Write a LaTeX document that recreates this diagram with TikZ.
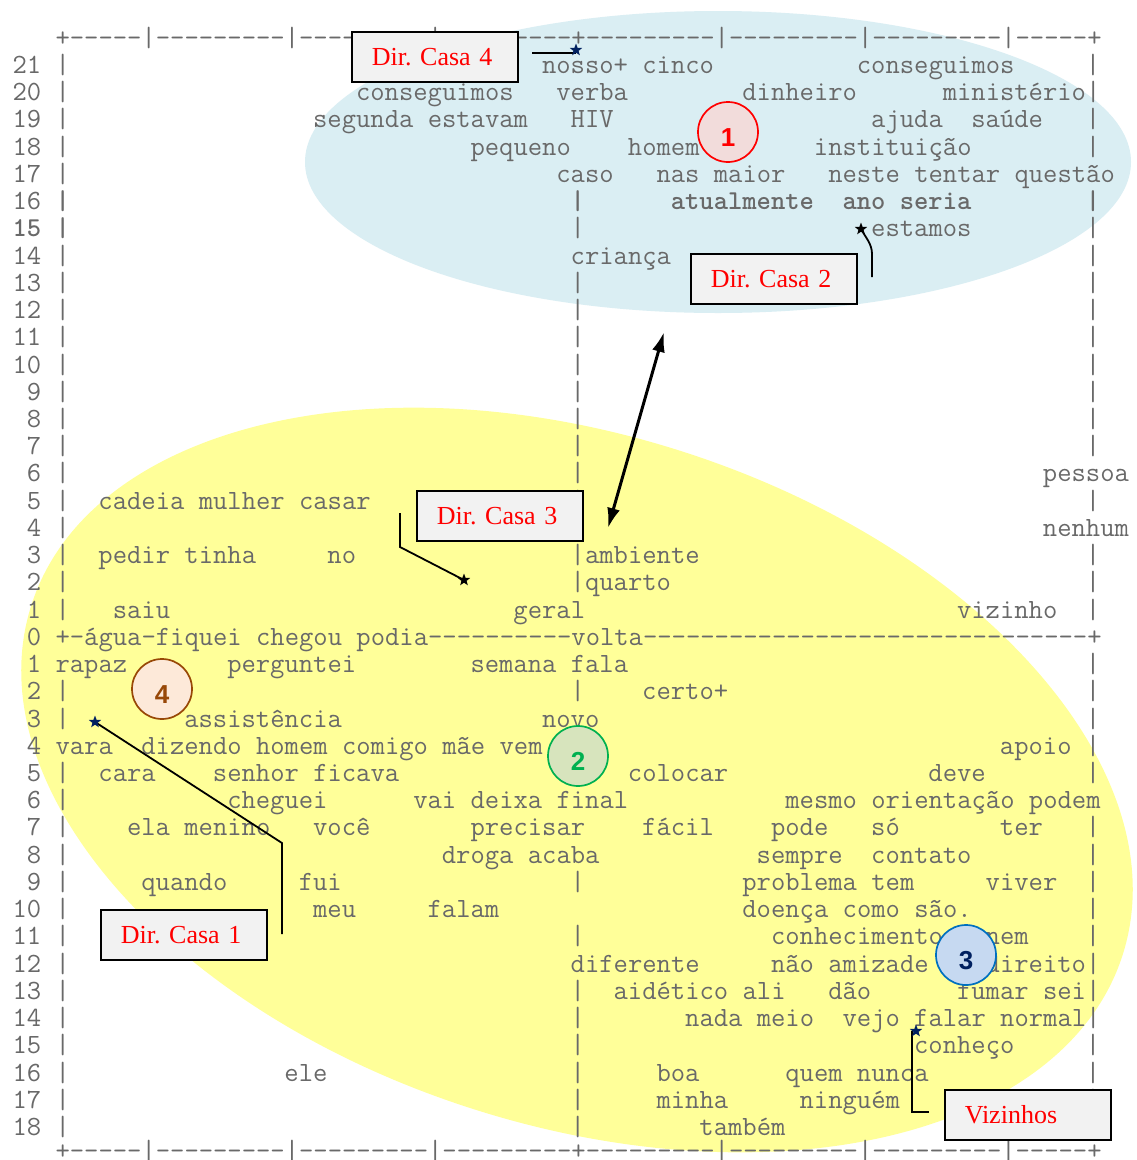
\documentclass[tikz,border=0pt]{standalone}
\usepackage{fontspec}
\newfontfamily\boxfont{Liberation Serif}
\newfontfamily\numfont{Liberation Sans}
\usetikzlibrary{shapes.geometric,arrows.meta}
\definecolor{txt}{RGB}{105,105,105}
\definecolor{navy}{RGB}{0,32,96}
\definecolor{boxgray}{RGB}{242,242,242}
\definecolor{skyfill}{RGB}{218,238,243}
\definecolor{lemon}{RGB}{255,255,153}
\definecolor{pinkfill}{RGB}{242,220,219}
\definecolor{greenfill}{RGB}{215,228,189}
\definecolor{greenline}{RGB}{0,176,80}
\definecolor{bluefill}{RGB}{198,217,241}
\definecolor{blueline}{RGB}{0,112,192}
\definecolor{peach}{RGB}{253,233,217}
\definecolor{brownline}{RGB}{152,72,7}
\newcommand\dsh[1]{\foreach \i in {1,...,#1}{-\kern0pt}}
\begin{document}
\begin{tikzpicture}[x=1pt,y=-1pt,
  mono/.style={font=\ttfamily\fontsize{27.826pt}{30pt}\selectfont, text=txt, inner sep=0pt, anchor=base west},
  monob/.style={mono, font=\ttfamily\bfseries\fontsize{27.26pt}{30pt}\selectfont},
  lbl/.style={draw=black, line width=1.6pt, fill=boxgray, anchor=north west, minimum height=50pt,
    text width=126pt, inner xsep=20pt, inner ysep=0pt, align=left,
    font=\boxfont\fontsize{26pt}{30pt}\selectfont, text=red},
  marker/.style={star, star points=5, star point ratio=2.4, inner sep=0pt, minimum size=13pt, fill=navy},
  conn/.style={line width=1.8pt, black},
  badge/.style={circle, minimum size=60pt, line width=1.7pt, inner sep=0pt,
    font=\numfont\bfseries\fontsize{26pt}{28pt}\selectfont, text height=28pt, text depth=0pt}]
\useasboundingbox (0,0) rectangle (1136,1160);
\fill[white] (0,0) rectangle (1136,1160);
% background ellipses
\fill[skyfill] (718,162) ellipse [x radius=413, y radius=151];
\fill[lemon, rotate around={-17.8:(577,780)}] (577,780) ellipse [x radius=573, y radius=345];
% text plot
\node[mono] (top) at (55.33,46.27) {+\dsh{5}|\dsh{9}|\dsh{9}|\dsh{9}+\dsh{9}|\dsh{9}|\dsh{9}|\dsh{5}+};
\node[mono] (zero) at (55.33,645.33) {+-água-fiquei chegou podia\dsh{10}volta\dsh{31}+};
\node[mono] (bottom) at (55.33,1159.5) {+\dsh{5}|\dsh{9}|\dsh{9}|\dsh{9}+\dsh{9}|\dsh{9}|\dsh{9}|\dsh{5}+};
\foreach \l/\c/\t in {
1/0/21, 1/3/|, 1/37/nosso+ cinco, 1/59/conseguimos, 1/75/|,
2/0/20, 2/3/|, 2/24/conseguimos, 2/38/verba, 2/51/dinheiro, 2/65/ministério|,
3/0/19, 3/3/|, 3/21/segunda estavam, 3/39/HIV, 3/60/ajuda, 3/67/saúde, 3/75/|,
4/0/18, 4/3/|, 4/32/pequeno, 4/43/homem, 4/56/instituição, 4/75/|,
5/0/17, 5/3/|, 5/38/caso, 5/45/nas maior, 5/57/neste tentar questão,
6/0/16,
7/39/|, 7/60/estamos, 7/75/|,
8/0/14, 8/3/|, 8/39/criança, 8/75/|,
9/0/13, 9/3/|, 9/39/|, 9/75/|,
10/0/12, 10/3/|, 10/39/|, 10/75/|,
11/0/11, 11/3/|, 11/39/|, 11/75/|,
12/0/10, 12/3/|, 12/39/|, 12/75/|,
13/1/9, 13/3/|, 13/39/|, 13/75/|,
14/1/8, 14/3/|, 14/39/|, 14/75/|,
15/1/7, 15/3/|, 15/39/|, 15/75/|,
16/1/6, 16/3/|, 16/39/|, 16/72/pessoa,
17/1/5, 17/3/|, 17/6/cadeia mulher casar, 17/39/|, 17/75/|,
18/1/4, 18/3/|, 18/39/|, 18/72/nenhum,
19/1/3, 19/3/|, 19/6/pedir tinha, 19/22/no, 19/39/|ambiente, 19/75/|,
20/1/2, 20/3/|, 20/39/|quarto, 20/75/|,
21/1/1, 21/3/|, 21/7/saiu, 21/35/geral, 21/66/vizinho, 21/75/|,
22/1/0,
23/1/1, 23/3/rapaz, 23/15/perguntei, 23/32/semana fala, 23/75/|,
24/1/2, 24/3/|, 24/39/|, 24/44/certo+, 24/75/|,
25/1/3, 25/3/|, 25/12/assistência, 25/37/novo, 25/75/|,
26/1/4, 26/3/vara, 26/9/dizendo homem comigo mãe vem, 26/39/|, 26/69/apoio, 26/75/|,
27/1/5, 27/3/|, 27/6/cara, 27/14/senhor ficava, 27/39/|, 27/43/colocar, 27/64/deve, 27/75/|,
28/1/6, 28/3/|, 28/15/cheguei, 28/28/vai deixa final, 28/54/mesmo orientação podem,
29/1/7, 29/3/|, 29/8/ela menino, 29/21/você, 29/32/precisar, 29/44/fácil, 29/53/pode, 29/60/só, 29/69/ter, 29/75/|,
30/1/8, 30/3/|, 30/30/droga acaba, 30/52/sempre, 30/60/contato, 30/75/|,
31/1/9, 31/3/|, 31/9/quando, 31/20/fui, 31/39/|, 31/51/problema tem, 31/68/viver, 31/75/|,
32/0/10, 32/3/|, 32/21/meu, 32/29/falam, 32/51/doença como são., 32/75/|,
33/0/11, 33/3/|, 33/39/|, 33/53/conhecimento, 33/68/nem, 33/75/|,
34/0/12, 34/3/|, 34/39/diferente, 34/53/não amizade, 34/68/direito|,
35/0/13, 35/3/|, 35/39/|, 35/42/aidético ali, 35/57/dão, 35/66/fumar sei|,
36/0/14, 36/3/|, 36/39/|, 36/47/nada meio, 36/58/vejo falar normal|,
37/0/15, 37/3/|, 37/39/|, 37/63/conheço, 37/75/|,
38/0/16, 38/3/|, 38/19/ele, 38/39/|, 38/45/boa, 38/54/quem nunca, 38/75/|,
39/0/17, 39/3/|, 39/39/|, 39/45/minha, 39/55/ninguém, 39/75/|,
40/0/18, 40/3/|, 40/39/|, 40/48/também, 40/75/|}
  {\node[mono] (t\l-\c) at ({12.4+14.31*\c},{73.5+27.23*(\l-1)}) {\t};}
\foreach \l/\c/\t in {6/3/|, 6/39/|, 6/46/atualmente, 6/58/ano seria, 6/75/|, 7/0/15, 7/3/|}
  {\node[monob] (t\l-\c) at ({12.4+14.31*\c},{73.5+27.23*(\l-1)}) {\t};}
% connectors
\coordinate (p4) at (576,50);
\coordinate (p2) at (861,229);
\coordinate (p3) at (464,580);
\coordinate (p1) at (95,722);
\coordinate (pv) at (916,1031);
\coordinate (c4a) at (532,53);
\coordinate (c2a) at (872,277);
\coordinate (c2b) at (872,254);
\coordinate (c3a) at (400,513);
\coordinate (c3b) at (400,547);
\coordinate (c1a) at (282,934);
\coordinate (c1b) at (282,843);
\coordinate (cva) at (929,1112);
\coordinate (cvb) at (912,1112);
\draw[conn] (c4a) -- (c4a -| p4);
\draw[conn] (c2a) -- (c2b) .. controls (872,244) and (866,238) .. (p2);
\draw[conn] (c3a) -- (c3b) -- (p3);
\draw[conn] (c1a) -- (c1b) -- (p1);
\draw[conn] (cva) -- (cvb) -- (cvb |- pv);
\coordinate (arrA) at (608,528);
\coordinate (arrB) at (664,332);
\draw[line width=3pt, {Latex[length=20pt,width=13pt]}-{Latex[length=20pt,width=13pt]}] (arrA) -- (arrB);
% badges
\node[badge, draw=red, fill=pinkfill, text=red] (n1) at (728,132) {1};
\node[badge, draw=greenline, fill=greenfill, text=greenline] (n2) at (578,756) {2};
\node[badge, draw=blueline, fill=bluefill, text=navy] (n3) at (966,955) {3};
\node[badge, draw=brownline, fill=peach, text=brownline] (n4) at (162,689) {4};
% label boxes
\node[lbl] (b4) at (351,31) {Dir.\ Casa 4};
\node[lbl] (b2) at (690,253) {Dir.\ Casa 2};
\node[lbl] (b3) at (416,490) {Dir.\ Casa 3};
\node[lbl] (b1) at (100,909) {Dir.\ Casa 1};
\node[lbl] (bv) at (944,1089) {Vizinhos};
% star markers
\node[marker] (s4) at (p4) {};
\node[marker, fill=black] (s2) at (p2) {};
\node[marker, fill=black] (s3) at (p3) {};
\node[marker] (s1) at (p1) {};
\node[marker] (sv) at (pv) {};
\end{tikzpicture}
\end{document}
